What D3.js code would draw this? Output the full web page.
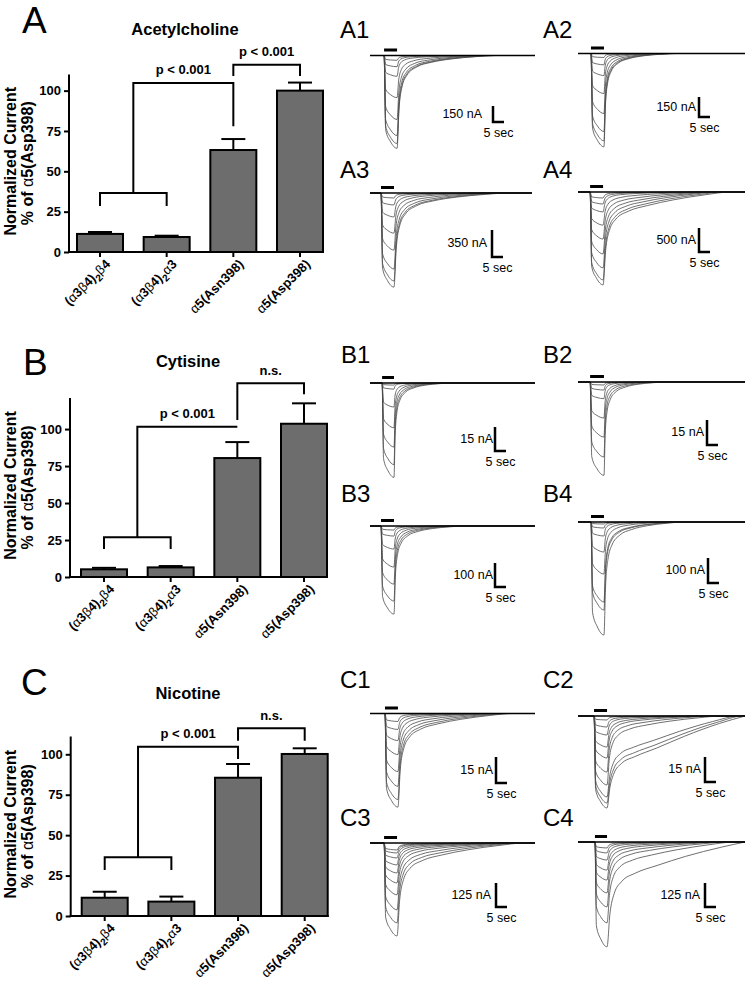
<!DOCTYPE html>
<html><head><meta charset="utf-8">
<script src="https://cdn.jsdelivr.net/npm/d3@7"></script>
<style>
body{margin:0;background:#fff}
svg{display:block}
text{font-family:"Liberation Sans",Arial,Helvetica,sans-serif}
</style>
</head><body>
<svg id="fig" width="745" height="981"></svg>
<script>
// ================= BAR CHART DATA =================
const categories = ["(α3β4)2β4", "(α3β4)2α3", "α5(Asn398)", "α5(Asp398)"];
const yTicks = [0, 25, 50, 75, 100];
const agonists = ["Acetylcholine", "Cytisine", "Nicotine"];
const panelLetters = ["A", "B", "C"];

const achMean = [11.2, 9.3, 63.2, 100.0];
const achSem  = [1.2, 0.8, 6.8, 5.0];
const cytMean = [5.2, 6.5, 80.4, 103.6];
const cytSem  = [1.0, 0.9, 10.8, 13.8];
const nicMean = [11.3, 8.9, 85.5, 100.2];
const nicSem  = [3.7, 3.1, 8.5, 3.5];

// significance brackets, in % units
// group bracket over bars 1-2: [level, leg end]
const achGroup = [36.6, 28.5];
const cytGroup = [26.8, 18.9];
const nicGroup = [36.3, 28.4];
// link from group bracket to bar 3: [level, right leg end]
const achLink = [104.8, 78.0];
const cytLink = [101.6, 101.6];
const nicLink = [104.7, 97.1];
// pair bracket bars 3-4: [level, left leg end, right leg end]
const achPair = [116.0, 109.0, 109.0];
const cytPair = [130.9, 106.1, 123.6];
const nicPair = [116.1, 108.4, 108.4];
const linkTexts = ["p < 0.001", "p < 0.001", "p < 0.001"];
const pairTexts = ["p < 0.001", "n.s.", "n.s."];

// ================= TRACE DATA =================
const traceNames = ["A1","A2","A3","A4","B1","B2","B3","B4","C1","C2","C3","C4"];
const scaleBarNA = [150,150,350,500,15,15,100,100,15,15,125,125];
const scaleBarSec = 5;
const drugOn  = [6.4,5.9,5.0,5.5,5.5,5.5,5.0,5.9,6.8,7.3,6.4,7.7];
const drugOff = [12.3,11.8,10.9,11.4,10.9,11.8,10.9,11.8,12.7,13.2,12.3,13.2];
const recordLen = [75,76,73.6,76,75,76,75,76,75,76,75,76];
// superimposed responses: [peak current (nA), recovery time (s), slow-tail fraction]
const respA1 = [[45,30,0.10],[105,32,0.10],[195,35,0.12],[395,38,0.12],[600,40,0.12],[750,42,0.12],[825,44,0.12],[870,45,0.12]];
const respA2 = [[30,25,0.05],[85,26,0.05],[165,27,0.06],[300,28,0.06],[450,30,0.06],[585,31,0.06],[655,32,0.06],[700,33,0.06]];
const respA3 = [[65,35,0.10],[155,38,0.10],[310,40,0.12],[520,42,0.12],[740,45,0.14],[985,48,0.14],[1140,50,0.15],[1220,52,0.15]];
const respA4 = [[125,35,0.10],[250,38,0.12],[415,40,0.15],[690,45,0.20],[980,48,0.25],[1290,50,0.28],[1580,52,0.30],[1830,55,0.32],[1935,58,0.35]];
const respB1 = [[1.3,20,0.03],[3.8,20,0.03],[15,22,0.04],[28,23,0.04],[40,24,0.05],[51,25,0.05],[59,26,0.05]];
const respB2 = [[1.8,22,0.04],[4.8,23,0.04],[10,24,0.05],[21.6,25,0.05],[33,26,0.05],[45,27,0.06],[56,28,0.06]];
const respB3 = [[17,25,0.05],[42,26,0.05],[96,27,0.06],[171,28,0.06],[242,30,0.07],[313,31,0.07],[367,32,0.08]];
const respB4 = [[8,25,0.05],[24,26,0.05],[56,28,0.06],[120,30,0.07],[208,32,0.08],[320,34,0.10],[352,35,0.10],[452,36,0.10]];
const respC1 = [[4.6,35,0.10],[9.2,38,0.12],[15.6,40,0.14],[23.7,42,0.16],[33.5,45,0.18],[42,48,0.20],[49.6,50,0.22],[54,52,0.24]];
const respC2 = [[2.4,35,0.10],[6.6,38,0.12],[11.4,40,0.15],[18.6,42,0.18],[25.2,45,0.20],[33.6,48,0.25],[41.4,52,0.30],[48.6,60,0.85],[52.2,62,0.95],[55.2,64,1.0]];
const respC3 = [[36,40,0.10],[52,42,0.12],[78,44,0.14],[114,46,0.16],[156,48,0.18],[208,50,0.20],[270,52,0.22],[348,54,0.25],[416,56,0.28],[484,58,0.30]];
const respC4 = [[31,40,0.10],[57,42,0.12],[94,45,0.15],[146,48,0.18],[198,50,0.22],[265,52,0.26],[338,55,0.30],[421,58,0.40],[546,65,0.60]];
const responses = [respA1,respA2,respA3,respA4,respB1,respB2,respB3,respB4,respC1,respC2,respC3,respC4];
// response time-course shape read from the recordings (fractions of peak)
const activationKnots = [0, 0.12, 0.5, 1];
const activationLevel = [0, 0.8, 0.93, 1];
const recoveryKnots = [0, 0.02, 0.05, 0.1, 0.2, 0.35, 0.55, 0.8, 1];
const fastRecovery  = [1, 0.55, 0.3, 0.17, 0.08, 0.035, 0.012, 0.003, 0];
const slowRecovery  = [1, 0.78, 0.62, 0.52, 0.44, 0.35, 0.22, 0.08, 0];

// ================= LAYOUT (positions only) =================
const barLayout = [
  {x0:69,   y0:252, top:74.5, yMax:110, off:8,  titleX:185, titleY:35,    letterX:22, letterY:33},
  {x0:70,   y0:577, top:398,  yMax:121, off:11, titleX:188, titleY:366.5, letterX:23, letterY:375},
  {x0:70.7, y0:916, top:736.5,yMax:111, off:11, titleX:188, titleY:699,   letterX:21, letterY:695}
];
const traceLayout = [
  {x:370, y:55.5, lx:340, ly:38,  sx:493, sy:122, bar:16, gap:11},
  {x:578, y:53.5, lx:543, ly:38,  sx:699, sy:117, bar:20, gap:3},
  {x:370, y:193,  lx:340, ly:178, sx:492, sy:257, bar:27, gap:5},
  {x:578, y:192,  lx:543, ly:178, sx:699, sy:252, bar:24, gap:3},
  {x:370, y:383,  lx:341, ly:363, sx:495, sy:451, bar:24, gap:2},
  {x:578, y:382,  lx:543, ly:363, sx:707, sy:445, bar:25, gap:3},
  {x:370, y:526,  lx:341, ly:502, sx:495, sy:587, bar:24, gap:2},
  {x:578, y:522,  lx:543, ly:502, sx:708, sy:583, bar:25, gap:3},
  {x:370, y:713.5,lx:340, ly:688, sx:496, sy:783, bar:26, gap:3},
  {x:578, y:716,  lx:543, ly:688, sx:705, sy:782, bar:25, gap:4},
  {x:370, y:843,  lx:340, ly:826, sx:496, sy:907, bar:24, gap:5},
  {x:578, y:842,  lx:543, ly:826, sx:705, sy:907, bar:24, gap:5}
];
const secPx = 11; // width of the 5 s scale bar

const svg = d3.select("#fig");
svg.append("rect").attr("width",745).attr("height",981).attr("fill","#fff");

// ================= BAR CHARTS =================
const meansAll = [achMean, cytMean, nicMean];
const semsAll = [achSem, cytSem, nicSem];
const groupAll = [achGroup, cytGroup, nicGroup];
const linkAll = [achLink, cytLink, nicLink];
const pairAll = [achPair, cytPair, nicPair];

function labelTspans(sel, label) {
  const chars = Array.from(label);
  let prev = "";
  let sub = false;
  chars.forEach((ch) => {
    const greek = (ch === "α" || ch === "β");
    const isSub = (ch === "2" && prev === ")");
    const t = sel.append("tspan").text(ch)
      .attr("font-weight", greek ? "normal" : "bold");
    if (isSub) { t.attr("font-size", 10).attr("dy", 4); sub = true; }
    else if (sub) { t.attr("dy", -4); sub = false; }
    prev = ch;
  });
}

barLayout.forEach((L, k) => {
  const g = svg.append("g");
  const means = meansAll[k], sems = semsAll[k];
  const y = d3.scaleLinear().domain([0, L.yMax]).range([L.y0, L.top]);
  const x = d3.scaleBand().domain(categories)
    .range([L.x0 + L.off, L.x0 + L.off + 246]).paddingInner(0.31).paddingOuter(0);
  const cx = c => x(c) + x.bandwidth() / 2;

  // letter + title
  g.append("text").attr("x", L.letterX).attr("y", L.letterY).attr("font-size", 37).text(panelLetters[k]);
  g.append("text").attr("x", L.titleX).attr("y", L.titleY).attr("text-anchor","middle")
    .attr("font-size", 16.5).attr("font-weight","bold").text(agonists[k]);

  // y axis
  const ya = g.append("g").attr("transform", `translate(${L.x0},0)`)
    .call(d3.axisLeft(y).tickValues(yTicks).tickSize(5).tickSizeOuter(0).tickPadding(3));
  ya.select(".domain").remove();
  ya.append("line").attr("x1",0).attr("x2",0).attr("y1",L.y0+1).attr("y2",L.top).attr("stroke","#000").attr("stroke-width",2);
  ya.selectAll(".tick line").attr("stroke","#000").attr("stroke-width",2);
  ya.selectAll(".tick text").attr("font-size",13).attr("font-weight","bold").attr("fill","#000")
    .style("font-family","'Liberation Sans',Arial,sans-serif");

  // x axis
  const xa = g.append("g").attr("transform", `translate(0,${L.y0})`)
    .call(d3.axisBottom(x).tickSize(5).tickSizeOuter(0).tickFormat(""));
  xa.select(".domain").remove();
  xa.append("line").attr("x1", L.x0 - 1).attr("x2", x.range()[1] + 1).attr("y1",0).attr("y2",0)
    .attr("stroke","#000").attr("stroke-width",2);
  xa.selectAll(".tick line").attr("stroke","#000").attr("stroke-width",2);

  // y label
  const ymid = (L.y0 + L.top) / 2;
  g.append("text").attr("transform", `translate(15.5,${ymid - 2}) rotate(-90)`).attr("text-anchor","middle")
    .attr("font-size",16).attr("font-weight","bold").text("Normalized Current");
  const yl2 = g.append("text").attr("transform", `translate(32.5,${ymid}) rotate(-90)`).attr("text-anchor","middle")
    .attr("font-size",16).attr("font-weight","bold");
  yl2.append("tspan").text("% of ");
  yl2.append("tspan").attr("font-weight","normal").text("α");
  yl2.append("tspan").text("5(Asp398)");

  // error bars
  categories.forEach((c, i) => {
    g.append("line").attr("x1", cx(c)).attr("x2", cx(c)).attr("y1", y(means[i])).attr("y2", y(means[i] + sems[i]))
      .attr("stroke","#000").attr("stroke-width",2);
    g.append("line").attr("x1", cx(c) - 12).attr("x2", cx(c) + 12)
      .attr("y1", y(means[i] + sems[i])).attr("y2", y(means[i] + sems[i]))
      .attr("stroke","#000").attr("stroke-width",2);
  });
  // bars
  g.selectAll("rect.bar").data(categories).join("rect").attr("class","bar")
    .attr("x", c => x(c)).attr("width", x.bandwidth())
    .attr("y", (c,i) => y(means[i])).attr("height", (c,i) => L.y0 - y(means[i]))
    .attr("fill","#6d6d6d").attr("stroke","#000").attr("stroke-width",2);

  // x labels
  categories.forEach(c => {
    const t = g.append("text").attr("transform", `translate(${cx(c) + 11},${L.y0 + 13}) rotate(-45)`)
      .attr("text-anchor","end").attr("font-size",13);
    labelTspans(t, c);
  });

  // brackets
  const c0 = cx(categories[0]), c1 = cx(categories[1]), c2 = cx(categories[2]), c3 = cx(categories[3]);
  const mid = (c0 + c1) / 2;
  const gr = groupAll[k], lk = linkAll[k], pr = pairAll[k];
  const line = d3.line();
  const br = (pts) => g.append("path").attr("d", line(pts)).attr("fill","none")
    .attr("stroke","#000").attr("stroke-width",2).attr("stroke-linejoin","miter");
  br([[c0, y(gr[1])],[c0, y(gr[0])],[c1, y(gr[0])],[c1, y(gr[1])]]);
  br([[mid, y(gr[0])],[mid, y(lk[0])],[c2, y(lk[0])],[c2, y(lk[1])]]);
  br([[c2, y(pr[1])],[c2, y(pr[0])],[c3, y(pr[0])],[c3, y(pr[2])]]);
  g.append("text").attr("x", (mid + c2) / 2).attr("y", y(lk[0]) - 8.5).attr("text-anchor","middle")
    .attr("font-size",13).attr("font-weight","bold").text(linkTexts[k]);
  g.append("text").attr("x", (c2 + c3) / 2).attr("y", y(pr[0]) - 8.5).attr("text-anchor","middle")
    .attr("font-size",13).attr("font-weight","bold").text(pairTexts[k]);
});

// ================= CURRENT TRACES =================
function responsePoints(P, R, s, on, off, len) {
  const pts = [[0, 0], [on, 0]];
  activationKnots.forEach((kk, i) => { if (i > 0) pts.push([on + kk * (off - on), -P * activationLevel[i]]); });
  recoveryKnots.forEach((kk, i) => {
    if (i === 0) return;
    const t = off + kk * R;
    if (t < len - 0.5) pts.push([t, -P * ((1 - s) * fastRecovery[i] + s * slowRecovery[i])]);
  });
  pts.push([len, 0]);
  return pts;
}

traceLayout.forEach((L, k) => {
  const g = svg.append("g");
  const xs = d3.scaleLinear().domain([0, scaleBarSec]).range([L.x, L.x + secPx]);
  const ys = d3.scaleLinear().domain([0, -scaleBarNA[k]]).range([L.y, L.y + L.bar]);
  const gen = d3.line().x(d => xs(d[0])).y(d => ys(d[1])).curve(d3.curveMonotoneX);

  g.append("text").attr("x", L.lx).attr("y", L.ly).attr("font-size", 24).text(traceNames[k]);

  responses[k].forEach(r => {
    g.append("path").attr("d", gen(responsePoints(r[0], r[1], r[2], drugOn[k], drugOff[k], recordLen[k])))
      .attr("fill","none").attr("stroke","#4a4a4a").attr("stroke-width",0.8);
  });
  // holding baseline
  g.append("line").attr("x1", xs(0)).attr("x2", xs(recordLen[k])).attr("y1", ys(0)).attr("y2", ys(0))
    .attr("stroke","#000").attr("stroke-width",1.6);
  // agonist application bar
  g.append("rect").attr("x", xs(drugOn[k])).attr("width", xs(drugOff[k]) - xs(drugOn[k]))
    .attr("y", ys(0) - 7).attr("height", 3).attr("fill","#000");

  // scale bar
  const x0 = L.sx, yb = L.sy;
  const vlen = ys(-scaleBarNA[k]) - ys(0);
  const hlen = xs(scaleBarSec) - xs(0);
  g.append("path").attr("d", `M${x0},${yb - vlen}V${yb}H${x0 + hlen}`)
    .attr("fill","none").attr("stroke","#000").attr("stroke-width",2.5);
  g.append("text").attr("x", x0 - L.gap).attr("y", yb - vlen / 2 + 3.5).attr("text-anchor","end")
    .attr("font-size",12.5).text(scaleBarNA[k] + " nA");
  g.append("text").attr("x", x0 + hlen / 2).attr("y", yb + 14.5).attr("text-anchor","middle")
    .attr("font-size",12.5).text(scaleBarSec + " sec");
});
</script>
</body></html>
